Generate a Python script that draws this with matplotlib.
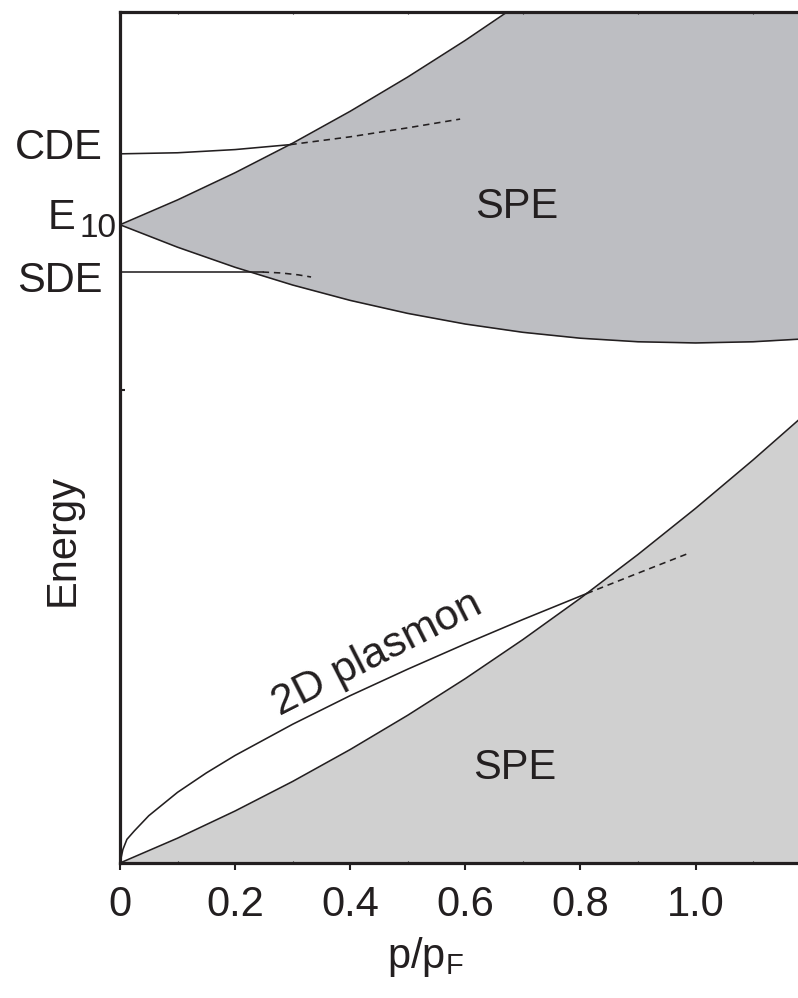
import matplotlib
matplotlib.use("Agg")
import matplotlib.pyplot as plt
from matplotlib.ticker import FixedLocator

plt.rcParams['font.family'] = ['Liberation Sans', 'DejaVu Sans']

# ---- data ----
# x grid for the band boundaries (p/pF)
p_grid = [0.0, 0.1, 0.2, 0.3, 0.4, 0.5, 0.6, 0.7, 0.8, 0.9, 1.0, 1.1, 1.18]
# inter-subband SPE continuum (upper region)
spe10_low = [2.70, 2.605, 2.52, 2.445, 2.38, 2.325, 2.28, 2.245, 2.22, 2.205, 2.20, 2.205, 2.216]
spe10_high = [2.70, 2.805, 2.92, 3.045, 3.18, 3.325, 3.48, 3.645, 3.82, 4.005, 4.20, 4.405, 4.576]
# intra-subband SPE continuum (lower region), upper edge
spe00_high = [0.0, 0.105, 0.22, 0.345, 0.48, 0.625, 0.78, 0.945, 1.12, 1.305, 1.50, 1.705, 1.876]

# 2D plasmon
plas_p = [0.0, 0.005, 0.012, 0.025, 0.05, 0.1, 0.15, 0.2, 0.3, 0.4, 0.5, 0.6, 0.7, 0.811]
plas_E = [0.0, 0.057, 0.10, 0.136, 0.20, 0.299, 0.381, 0.455, 0.587, 0.708, 0.82, 0.927, 1.03, 1.14]
plas_dash_p = [0.811, 0.9, 0.99]
plas_dash_E = [1.14, 1.226, 1.312]

# CDE
cde_p = [0.0, 0.1, 0.2, 0.296]
cde_E = [3.0, 3.0045, 3.018, 3.039]
cde_dash_p = [0.296, 0.4, 0.5, 0.591]
cde_dash_E = [3.039, 3.072, 3.11, 3.147]

# SDE
sde_p = [0.0, 0.248]
sde_E = [2.5, 2.5]
sde_dash_p = [0.248, 0.28, 0.31, 0.332]
sde_dash_E = [2.5, 2.496, 2.488, 2.479]

xticks = [0.0, 0.2, 0.4, 0.6, 0.8, 1.0]
xticklabels = ["0", "0.2", "0.4", "0.6", "0.8", "1.0"]

# ---- figure ----
fig = plt.figure(figsize=(7.98, 9.98), dpi=100)
ax = fig.add_axes([120/798, 135/998, 678/798, 851/998])

ink = '#231f20'
ax.fill_between(p_grid, spe10_low, spe10_high, color='#bdbec2', lw=0, zorder=1)
ax.fill_between(p_grid, 0, spe00_high, color='#d0d0d0', lw=0, zorder=1)
lw = 1.15
dash = (0, (4, 3))
ax.plot(p_grid, spe10_low, color=ink, lw=lw, zorder=3)
ax.plot(p_grid, spe10_high, color=ink, lw=lw, zorder=3)
ax.plot(p_grid, spe00_high, color=ink, lw=lw, zorder=3)
ax.plot(plas_p, plas_E, color=ink, lw=lw, zorder=3)
ax.plot(plas_dash_p, plas_dash_E, color=ink, lw=lw, ls=dash, zorder=3)
ax.plot(cde_p, cde_E, color=ink, lw=lw, zorder=3)
ax.plot(cde_dash_p, cde_dash_E, color=ink, lw=lw, ls=dash, zorder=3)
ax.plot(sde_p, sde_E, color=ink, lw=lw, zorder=3)
ax.plot(sde_dash_p, sde_dash_E, color=ink, lw=lw, ls=dash, zorder=3)

ax.set_xlim(0, 678/575.5)
ax.set_ylim(0, 3.6)

for s in ['left', 'bottom', 'top']:
    ax.spines[s].set_linewidth(2.3)
    ax.spines[s].set_color(ink)
ax.spines['right'].set_visible(False)

ax.set_xticks(xticks)
ax.set_xticklabels(xticklabels)
ax.xaxis.set_minor_locator(FixedLocator([0.1, 0.3, 0.5, 0.7, 0.9, 1.1]))
ax.tick_params(axis='x', which='major', direction='out', length=5, width=1.5,
               color=ink, labelsize=30, pad=11, labelcolor=ink)
ax.tick_params(axis='x', which='minor', direction='in', length=1.5, width=0.8,
               color=ink, top=True)
ax.set_yticks([2.0])
ax.set_yticklabels([])
ax.yaxis.set_minor_locator(FixedLocator([1.0]))
ax.tick_params(axis='y', which='major', direction='in', length=3.5, width=1.5, color=ink)
ax.tick_params(axis='y', which='minor', direction='in', length=1.5, width=1.5, color=ink)

ytr = ax.get_yaxis_transform()
fs = 30
ax.text(-17/678, 2.979, "CDE", transform=ytr, ha='right', va='baseline', fontsize=fs, color=ink)
ax.text(-45/678, 2.682, "E", transform=ytr, ha='right', va='baseline', fontsize=fs, color=ink)
ax.text(-40/678, 2.648, "10", transform=ytr, ha='left', va='baseline', fontsize=24, color=ink)
ax.text(-17/678, 2.415, "SDE", transform=ytr, ha='right', va='baseline', fontsize=fs, color=ink)

ax.text(0.69, 2.775, "SPE", ha='center', va='center', fontsize=fs, color=ink, zorder=4)
ax.text(0.686, 0.40, "SPE", ha='center', va='center', fontsize=fs, color=ink, zorder=4)
ax.text(0.446, 0.885, "2D plasmon", ha='center', va='center', fontsize=31, color=ink,
        rotation=27, rotation_mode='anchor', zorder=4)

fig.text(63/798, 1 - 540/998, "Energy", rotation=90, ha='center', va='center',
         fontsize=fs, color=ink)
fig.text(425/798, 1 - 957/998, "p/p$_\\mathregular{F}$", ha='center', va='center',
         fontsize=fs, color=ink)

fig.savefig("out.png", dpi=100)
